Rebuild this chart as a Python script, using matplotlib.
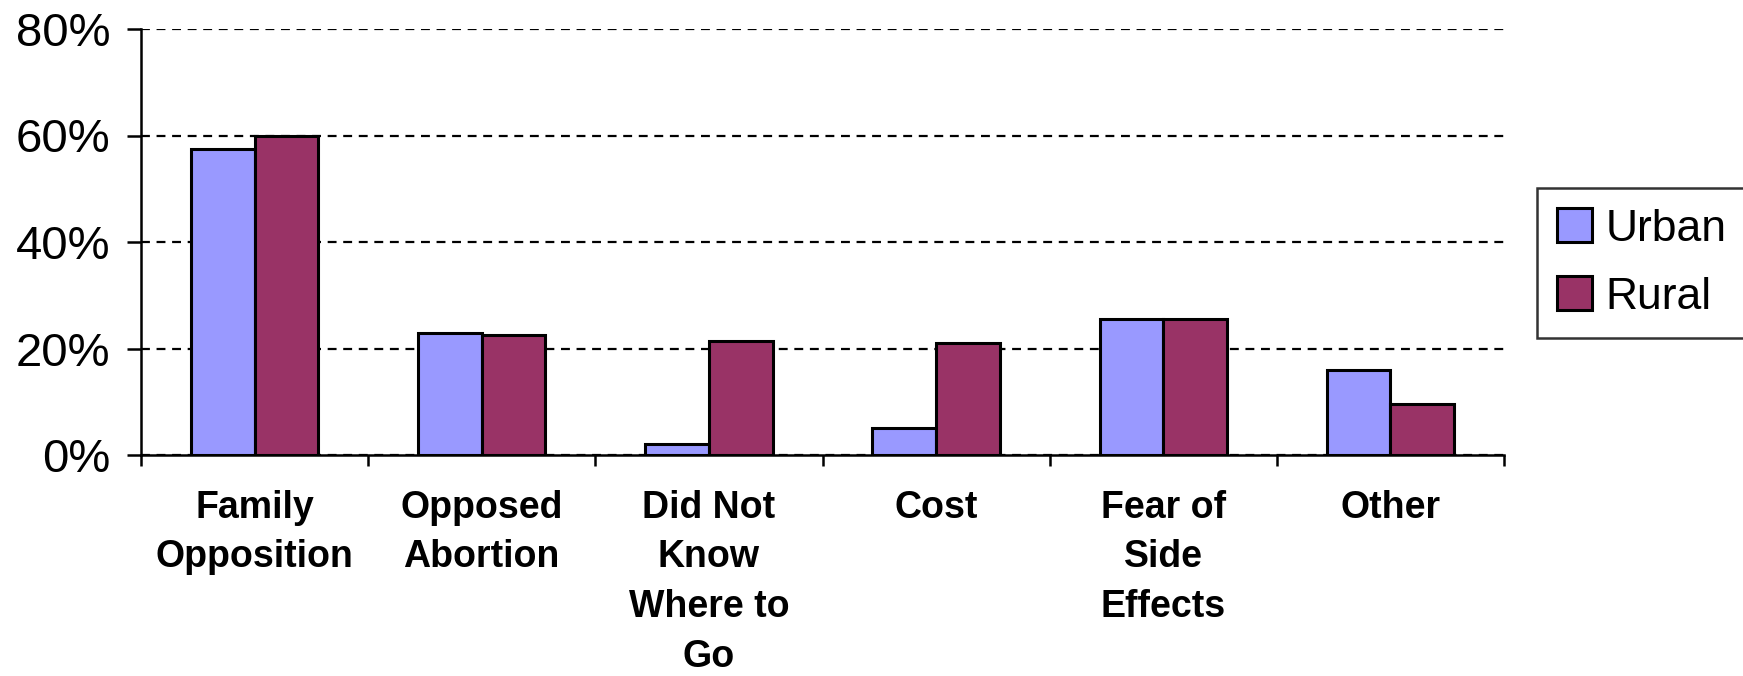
import matplotlib
matplotlib.use("Agg")
import matplotlib.pyplot as plt
import numpy as np
from matplotlib.ticker import PercentFormatter, FixedLocator

categories = ["Family\nOpposition", "Opposed\nAbortion", "Did Not\nKnow\nWhere to\nGo",
              "Cost", "Fear of\nSide\nEffects", "Other"]
urban = [57.5, 23.0, 2.0, 5.0, 25.5, 16.0]
rural = [60.0, 22.5, 21.5, 21.0, 25.5, 9.5]
series_names = ["Urban", "Rural"]
y_ticks = [0, 20, 40, 60, 80]

plt.rcParams['font.family'] = ['Liberation Sans', 'DejaVu Sans']

fig = plt.figure(figsize=(17.43, 6.76), dpi=100)
left, right, bottom, top = 141 / 1743, 1504 / 1743, 1 - 455 / 676, 1 - 29 / 676
ax = fig.add_axes([left, bottom, right - left, top - bottom])

x = np.arange(len(categories))
w = 0.28
ax.bar(x - w / 2, urban, w, color="#9999FF", edgecolor="black", linewidth=2.2, label=series_names[0], zorder=3)
ax.bar(x + w / 2, rural, w, color="#993366", edgecolor="black", linewidth=2.2, label=series_names[1], zorder=3)

ax.set_xlim(-0.5, len(categories) - 0.5)
ax.set_ylim(0, 80)
ax.set_yticks(y_ticks)
ax.yaxis.set_major_formatter(PercentFormatter(decimals=0))
ax.yaxis.grid(True, color="black", linestyle=(0, (4, 3)), linewidth=1.6, zorder=0)
ax.set_axisbelow(True)

for s in ["top", "right"]:
    ax.spines[s].set_visible(False)
for s in ["left", "bottom"]:
    ax.spines[s].set_linewidth(1.8)

# x ticks at category boundaries, labels at centers
ax.xaxis.set_major_locator(FixedLocator(np.arange(len(categories) + 1) - 0.5))
ax.xaxis.set_major_formatter(plt.NullFormatter())
ax.xaxis.set_minor_locator(FixedLocator(x))
ax.set_xticklabels(categories, minor=True, fontweight="bold", fontsize=27, linespacing=1.49)
ax.tick_params(axis="x", which="major", direction="out", length=8, width=1.8)
ax.tick_params(axis="x", which="minor", length=0, pad=25)
ax.tick_params(axis="y", direction="out", length=10, width=1.8, labelsize=34, pad=12)

leg = ax.legend(loc="center", bbox_to_anchor=(1543 / 1743, 1 - 339 / 676, 197 / 1743, 152 / 676),
                bbox_transform=fig.transFigure, fontsize=32, frameon=True,
                fancybox=False, edgecolor="black", handlelength=0.8, handleheight=0.8,
                handletextpad=0.3, labelspacing=0.6, borderpad=0.45)
leg.get_frame().set_linewidth(1.8)

fig.savefig("out.png", dpi=100, facecolor="white")
